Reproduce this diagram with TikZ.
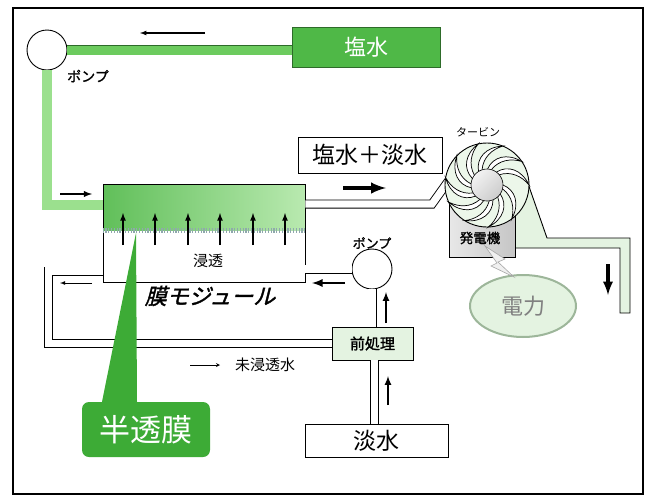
\documentclass[tikz,border=0pt]{standalone}
\usepackage{fontspec}
\setmainfont{Noto Sans CJK JP}
\newfontfamily\jpbold[FakeBold=1.5]{Noto Sans CJK JP}
\newfontfamily\jpslant[FakeSlant=0.25,FakeBold=1.5]{Noto Sans CJK JP}
\usepackage{tikz}
\usetikzlibrary{calc, positioning, arrows, shapes.geometric}

\definecolor{saltgreen}{HTML}{4FB847}
\definecolor{pipegreen}{HTML}{6CCB5E}
\definecolor{lightpipe}{HTML}{9BE08E}
\definecolor{darkgreen}{HTML}{2E6B2A}
\definecolor{palegreen}{HTML}{E4F3E1}
\definecolor{callgreen}{HTML}{3DAB36}
\definecolor{membgray}{HTML}{8FA9AC}
\definecolor{powerrim}{HTML}{9DB69A}

\newcommand{\fsz}[1]{\fontsize{#1}{#1}\selectfont}

\tikzset{
    box/.style={draw, line width=0.9pt, fill=white, inner sep=0pt},
    pump/.style={circle, draw, line width=0.9pt, fill=white, minimum size=40pt, inner sep=0pt},
    pipe/.style={draw, line width=0.9pt, double=white, double distance=7.2pt},
    flow/.style={-latex, line width=1.2pt},
    bigflow/.style={-latex, line width=4pt},
    heavy/.style={font=\jpbold},
}

\begin{document}
\begin{tikzpicture}[x=1pt, y=-1pt]
    \useasboundingbox (0,0) rectangle (654,496);
    \draw[line width=1.4pt] (13,8) rectangle (643,494);

    % salt water intake
    \node[pump] (pumpS) at (47,50) {};
    \node[heavy] (pumpSlbl) at (88,76) {\fsz{14}ポンプ};
    \node[box, fill=saltgreen, draw=darkgreen, minimum width=148pt, minimum height=40pt, text=white] (salt) at (366,47) {\fsz{22}塩水};
    \draw[line width=0.8pt, draw=darkgreen, double=pipegreen, double distance=9pt] (pumpS.east) -- (pumpS.east -| salt.west);
    \draw[flow, line width=1.2pt] (205,33) -- (140,33);

    % membrane module
    \node[box, minimum width=202pt, minimum height=98pt,
        path picture={\shade[left color=saltgreen!90, right color=lightpipe!70]
            (path picture bounding box.north west) rectangle ([yshift=-46pt]path picture bounding box.north east);}]
        (mod) at (204,233) {};
    \draw[membgray, line width=5pt, dash pattern=on 1.2pt off 1.6pt]
        ([yshift=-47pt]mod.north west) -- ([yshift=-47pt]mod.north east);
    \foreach \x in {123,155,188,220,253,285}
        \draw[flow, line width=1.6pt] (\x,245) -- (\x,213);
    \node (osmo) at (208,261) {\fsz{15}浸透};
    \node (modlbl) at (210,296) {\jpslant\fsz{22}膜モジュール};

    \coordinate (modin) at (103,205);
    \draw[lightpipe, line width=10pt] (pumpS.south) |- (modin);
    \draw[flow, line width=1.8pt] (60,194) -- (92,194);

    % mixed water to the turbine
    \node[box, minimum width=144pt, minimum height=36pt] (mix) at (370,155) {\fsz{23}塩水＋淡水};
    \draw[bigflow] (343,188) -- (386,188);
    \coordinate (bend) at (432,204);
    \draw[pipe] (mod.east |- bend) -- (bend) -- (452,176);

    % outlet
    \filldraw[fill=palegreen, line width=0.9pt] (525,175) -- (547,238) -- (630,238) -- (630,313)
        -- (620,313) -- (620,248) -- (510,248) -- (510,175) -- cycle;
    \draw[bigflow, line width=3.5pt] (608,264) -- (608,295);

    % turbine and generator
    \node[draw, line width=0.9pt, left color=gray!18, right color=gray!45, minimum width=66pt, minimum height=64pt] (gen) at (482,225) {};
    \node[circle, draw, line width=0.9pt, fill=palegreen!70, minimum size=84pt, inner sep=0pt] (tur) at (487,185) {};
    \begin{scope}[shift={(tur.center)}]
        \foreach \a in {0,34,...,330}
            \filldraw[fill=white, line width=0.7pt] (\a:16) .. controls (\a+10:29) and (\a+30:38) .. (\a+54:42)
                .. controls (\a+40:36) and (\a+24:28) .. (\a+14:16);
        \shade[left color=gray!10, right color=gray!40, shading angle=45] (0,0) circle (16);
        \draw[line width=0.6pt] (0,0) circle (16);
    \end{scope}
    \node (turlbl) at (478,132) {\fsz{11}タービン};
    \node[heavy] (genlbl) at (480,238) {\fsz{13.5}発電機};

    % electric power
    \node[ellipse, draw=powerrim, line width=2pt, fill=palegreen, minimum width=106pt, minimum height=62pt, text=gray] (power) at (523,306) {\fsz{22}電力};
    \filldraw[fill=gray!12, draw=gray!70, line width=0.6pt] (485,246) -- (505,259) -- (498,262)
        -- (514,277) -- (491,266) -- (497,263) -- cycle;

    % fresh water side
    \node[pump] (pumpF) at (372,269) {};
    \node[heavy] (pumpFlbl) at (372,243) {\fsz{13}ポンプ};
    \node[box, fill=palegreen, minimum width=81pt, minimum height=33pt] (pre) at (372.5,343.5) {\jpbold\fsz{15}前処理};
    \node[box, minimum width=143pt, minimum height=33pt] (fresh) at (376.5,440.5) {\fsz{23}淡水};
    \draw[pipe] (pumpF.west) -- (pumpF.west -| mod.east);
    \draw[pipe] (pumpF.south) -- (pumpF.south |- pre.north);
    \draw[pipe] ([xshift=2pt]pre.south) -- ([xshift=2pt]pre.south |- fresh.north);
    \draw[flow, line width=2.6pt] (345,283) -- (312,283);
    \draw[flow, line width=2pt] (386,323) -- (386,292);
    \draw[flow, line width=2pt] (388,405) -- (388,376);

    % unpermeated water loop
    \coordinate (lout) at (103,271);
    \draw[pipe] (lout) -- (48.5,271) |- (pre.west);
    \draw[flow, line width=0.8pt] (92,283) -- (60,283);
    \draw[-stealth, line width=0.8pt] (190,365) -- (220,365);
    \node (rest) at (265,365) {\fsz{15}未浸透水};

    % semipermeable membrane callout
    \node[fill=callgreen, rounded corners=7pt, minimum width=128pt, minimum height=55pt, text=white] (semi) at (146,429.5) {\fsz{31}半透膜};
    \coordinate (tip) at (136,233);
    \fill[callgreen] (tip) -- ([xshift=-44pt]semi.north) -- ([xshift=-9pt]semi.north) -- cycle;
\end{tikzpicture}
\end{document}
